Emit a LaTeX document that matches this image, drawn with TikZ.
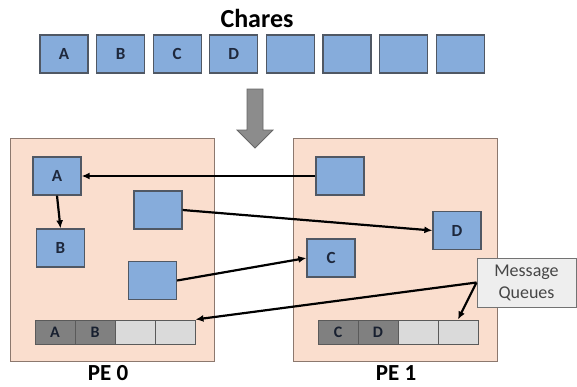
\documentclass[tikz,border=0pt]{standalone}
\usepackage{fontspec}
\setmainfont{Carlito}
\usetikzlibrary{arrows.meta}
\definecolor{chblue}{RGB}{134,172,219}
\definecolor{chedge}{RGB}{80,88,100}
\definecolor{peach}{RGB}{250,222,206}
\definecolor{peachedge}{RGB}{140,120,110}
\definecolor{qdark}{RGB}{128,128,128}
\definecolor{qlight}{RGB}{218,218,218}
\definecolor{txtdark}{RGB}{30,40,60}
\definecolor{notefill}{RGB}{238,238,238}
\definecolor{notetext}{RGB}{70,70,70}
\tikzset{
  chare/.style={draw=chedge, line width=1.3pt, fill=chblue, minimum width=48pt, minimum height=38pt, inner sep=0pt, font=\fontsize{17}{17}\selectfont\bfseries, text=txtdark},
  pebox/.style={draw=peachedge, line width=1pt, fill=peach},
  qcell/.style={draw=qdark!70!black, line width=1pt, minimum width=40pt, minimum height=24pt, inner sep=0pt, font=\fontsize{16}{16}\selectfont\bfseries, text=txtdark!80!black},
  qfull/.style={qcell, fill=qdark},
  qempty/.style={qcell, fill=qlight},
  msg/.style={draw=black, line width=2.2pt, -{Latex[length=8pt,width=7pt]}},
  pelabel/.style={font=\fontsize{23}{23}\selectfont\bfseries, anchor=base, inner sep=0pt},
}
\begin{document}
\begin{tikzpicture}[x=1pt,y=-1pt]
\useasboundingbox (0,0) rectangle (577,386);
\fill[white] (0,0) rectangle (577,386);
% title
\node[font=\fontsize{26}{26}\selectfont\bfseries] (title) at (257,18) {Chares};
% top row of chares
\foreach \i/\t in {0/A,1/B,2/C,3/D,4/{},5/{},6/{},7/{}} {
  \node[chare] (top\i) at ({64+56.6*\i},54) {\t};
}
% block arrow
\draw[draw=black!60, fill=black!45, line width=0.8pt]
  (247,89) -- (263,89) -- (263,130) -- (273,130) -- (255,148) -- (237,130) -- (247,130) -- cycle;
% PE boxes
\draw[pebox] (10,138) rectangle (214,361);
\draw[pebox] (293,138) rectangle (497,361);
\node[pelabel] (pe0) at (108,380) {PE 0};
\node[pelabel] (pe1) at (396,380) {PE 1};
% PE0 chares
\node[chare] (A) at (57,176) {A};
\node[chare] (B) at (60.5,248) {B};
\node[chare] (X1) at (158,210) {};
\node[chare] (X2) at (152.5,280.5) {};
% PE1 chares
\node[chare] (Y1) at (340,176) {};
\node[chare] (C) at (331,258) {C};
\node[chare] (D) at (457,230.5) {D};
% queues
\node[qfull] (q0a) at (55,332) {A};
\node[qfull] (q0b) at (95,332) {B};
\node[qempty] (q0c) at (135,332) {};
\node[qempty] (q0d) at (175,332) {};
\node[qfull] (q1a) at (338,332) {C};
\node[qfull] (q1b) at (378,332) {D};
\node[qempty] (q1c) at (418,332) {};
\node[qempty] (q1d) at (458,332) {};
% message queues note
\node[draw=black!55, line width=1pt, fill=notefill, minimum width=99pt, minimum height=49pt, inner sep=0pt, align=center, text=notetext, font=\fontsize{18}{22}\selectfont] (note) at (526.5,282.5) {Message\\Queues};
% connectors
\draw[msg] (Y1.west) -- (A.east);
\draw[msg] (A.south) -- (B.north);
\draw[msg] (X1.east) -- (D.west);
\draw[msg] (X2.east) -- (C.west);
\coordinate (n1) at (note.west);
\draw[msg] (n1) -- (q0d.north east);
\draw[msg] (n1) -- (q1d.north);
\end{tikzpicture}
\end{document}
